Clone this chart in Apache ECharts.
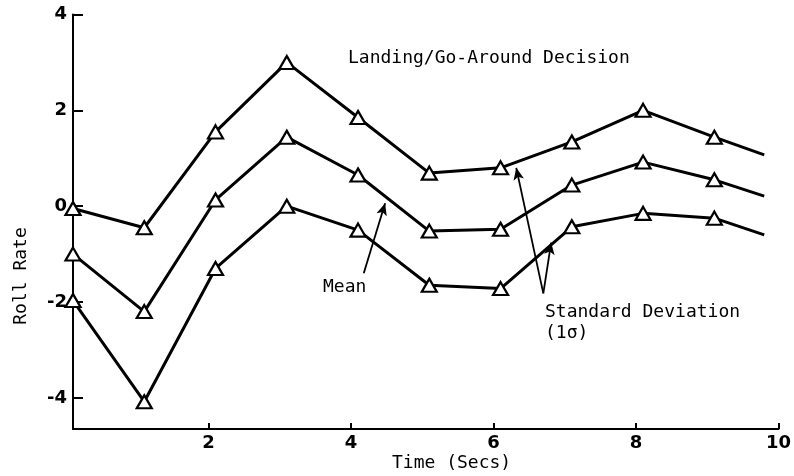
<!DOCTYPE html>
<html>
<head>
<meta charset="utf-8">
<script src="https://cdn.jsdelivr.net/npm/echarts@6/dist/echarts.min.js"></script>
<style>html,body{margin:0;padding:0;background:#fff}#c{width:794px;height:476px}</style>
</head>
<body>
<div id="c"></div>
<script>
// Data
var times = [0.1, 1.1, 2.1, 3.1, 4.1, 5.1, 6.1, 7.1, 8.1, 9.1, 9.8];
var upperSD = [-0.05, -0.45, 1.55, 3.0, 1.85, 0.69, 0.8, 1.34, 2.0, 1.44, 1.07];
var meanVals = [-1.0, -2.2, 0.13, 1.44, 0.65, -0.52, -0.48, 0.44, 0.92, 0.55, 0.21];
var lowerSD = [-1.97, -4.08, -1.3, 0.0, -0.5, -1.65, -1.72, -0.43, -0.15, -0.25, -0.6];
var xTicks = [2, 4, 6, 8, 10];
var yTicks = [-4, -2, 0, 2, 4];
// annotation arrows (data coordinates): [start, end]
var meanArrow = [[4.18, -1.40], [4.48, 0.06]];
var sdArrowUpper = [[6.70, -1.82], [6.32, 0.80]];
var sdArrowLower = [[6.70, -1.82], [6.81, -0.76]];

var mono = 'DejaVu Sans Mono, Liberation Mono, monospace';
var tickFont = 'DejaVu Sans, sans-serif';

function pts(ys) { return times.map(function (t, i) { return [t, ys[i]]; }); }
function sym(val, p) { return p.dataIndex === times.length - 1 ? 'none' : 'triangle'; }

function lineSeries(name, ys, extra) {
  var s = {
    name: name, type: 'line', data: pts(ys),
    symbol: sym, symbolSize: [15, 13], showSymbol: true,
    itemStyle: { color: '#fff', borderColor: '#000', borderWidth: 2.2 },
    lineStyle: { color: '#000', width: 3 },
    z: 3
  };
  for (var k in extra) s[k] = extra[k];
  return s;
}

var chart = echarts.init(document.getElementById('c'), null, { renderer: 'canvas' });
chart.setOption({
  animation: false,
  backgroundColor: '#fff',
  grid: { left: 73, right: 13, top: 14.5, bottom: 47, containLabel: false },
  xAxis: {
    type: 'value', min: 0.1, max: 10,
    axisLine: { onZero: false, lineStyle: { color: '#000', width: 2 } },
    axisTick: { inside: true, length: 6, customValues: xTicks, lineStyle: { color: '#000', width: 2 } },
    axisLabel: { customValues: xTicks, color: '#000', fontSize: 18, fontWeight: 'bold', fontFamily: tickFont, margin: 5 },
    splitLine: { show: false }
  },
  yAxis: {
    type: 'value', min: -4.65, max: 4,
    axisLine: { show: true, onZero: false, lineStyle: { color: '#000', width: 2 } },
    axisTick: { show: true, inside: true, length: 10, customValues: yTicks, lineStyle: { color: '#000', width: 2 } },
    axisLabel: { customValues: yTicks, color: '#000', fontSize: 18, fontWeight: 'bold', fontFamily: tickFont, margin: 6 },
    splitLine: { show: false }
  },
  series: [
    lineSeries('Upper SD', upperSD, {}),
    lineSeries('Mean', meanVals, {
      markLine: {
        silent: true, symbol: ['none', 'arrow'], symbolSize: [8, 12],
        label: { show: false },
        lineStyle: { color: '#000', width: 1.8, type: 'solid' },
        data: [
          [{ coord: meanArrow[0] }, { coord: meanArrow[1] }],
          [{ coord: sdArrowUpper[0] }, { coord: sdArrowUpper[1] }],
          [{ coord: sdArrowLower[0] }, { coord: sdArrowLower[1] }]
        ]
      }
    }),
    lineSeries('Lower SD', lowerSD, {})
  ],
  graphic: [
    { type: 'text', x: 348, y: 58, style: { text: 'Landing/Go-Around Decision', font: '18px ' + mono, fill: '#000', textAlign: 'left', textVerticalAlign: 'middle' } },
    { type: 'text', x: 323, y: 287, style: { text: 'Mean', font: '18px ' + mono, fill: '#000', textAlign: 'left', textVerticalAlign: 'middle' } },
    { type: 'text', x: 545, y: 312, style: { text: 'Standard Deviation', font: '18px ' + mono, fill: '#000', textAlign: 'left', textVerticalAlign: 'middle' } },
    { type: 'text', x: 545, y: 333, style: { text: '(1σ)', font: '18px ' + mono, fill: '#000', textAlign: 'left', textVerticalAlign: 'middle' } },
    { type: 'text', x: 392, y: 463, style: { text: 'Time (Secs)', font: '18px ' + mono, fill: '#000', textAlign: 'left', textVerticalAlign: 'middle' } },
    { type: 'text', x: 21, y: 276, rotation: Math.PI / 2, style: { text: 'Roll Rate', font: '18px ' + mono, fill: '#000', textAlign: 'center', textVerticalAlign: 'middle' } }
  ]
});
</script>
</body>
</html>
